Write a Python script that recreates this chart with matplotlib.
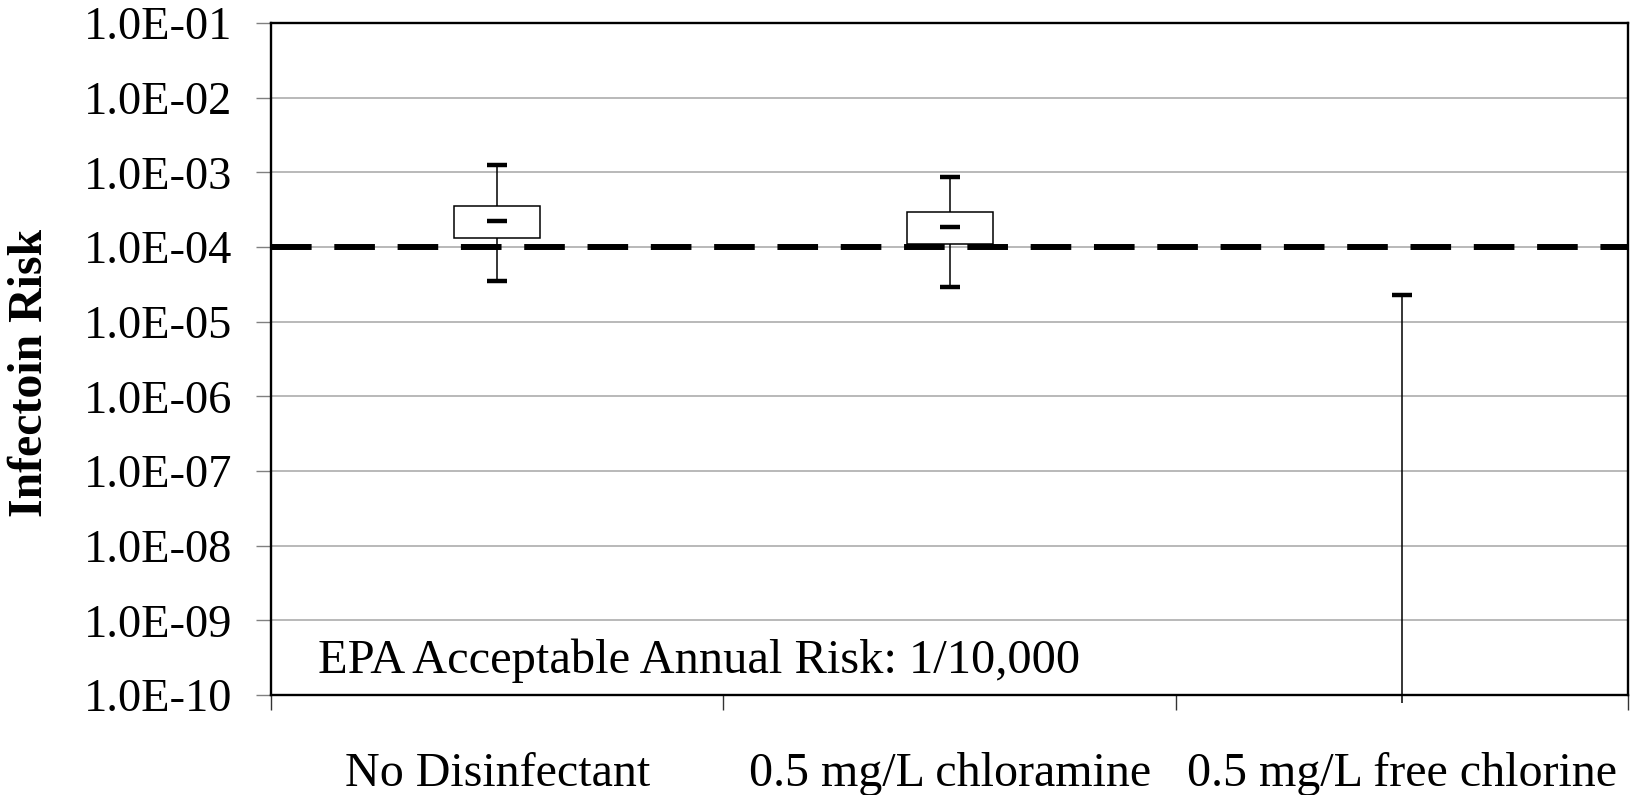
#!/usr/bin/env python3
# -*- coding: utf-8 -*-
"""
Infection risk by disinfectant condition (box plot, log scale)
"""

import matplotlib
matplotlib.use('Agg')
import matplotlib.pyplot as plt
import numpy as np
from matplotlib.ticker import FixedLocator, NullLocator, FuncFormatter

# 绘图风格
plt.rcParams['font.family'] = ['Liberation Serif', 'DejaVu Serif']
plt.rcParams['font.size'] = 34

# 数据
CATEGORIES = ['No Disinfectant', '0.5 mg/L chloramine', '0.5 mg/L free chlorine']
WHISKER_LOW = [3.5e-5, 2.9e-5, 7.8e-11]
Q1 = [1.32e-4, 1.10e-4, np.nan]
MEDIAN = [2.23e-4, 1.85e-4, np.nan]
Q3 = [3.54e-4, 2.94e-4, np.nan]
WHISKER_HIGH = [1.25e-3, 8.7e-4, 2.28e-5]
EPA_RISK = 1e-4
Y_TICKS = [1e-10, 1e-9, 1e-8, 1e-7, 1e-6, 1e-5, 1e-4, 1e-3, 1e-2, 1e-1]


def plot_risk():
    fig = plt.figure(figsize=(16.31, 7.95), dpi=100)
    ax = fig.add_axes([0.1662, 0.1258, 0.832, 0.8453])

    x = np.arange(len(CATEGORIES)) + 0.5

    # 须线
    ax.vlines(x, WHISKER_LOW, WHISKER_HIGH, color='black', linewidth=1.1,
              zorder=3, clip_on=False)
    # 端帽
    ax.plot(x, WHISKER_HIGH, linestyle='none', marker='_', markersize=15,
            markeredgewidth=3.2, color='black', zorder=4)
    ax.plot(x, WHISKER_LOW, linestyle='none', marker='_', markersize=15,
            markeredgewidth=3.2, color='black', zorder=4)
    # 箱体
    heights = np.array(Q3) - np.array(Q1)
    ax.bar(x, heights, bottom=Q1, width=0.19, facecolor='white',
           edgecolor='black', linewidth=1.1, zorder=4)
    # 中位数
    ax.plot(x, MEDIAN, linestyle='none', marker='_', markersize=15,
            markeredgewidth=3.2, color='black', zorder=5)

    # EPA 可接受风险线
    ax.plot([0, 3], [EPA_RISK, EPA_RISK], color='black', linewidth=4.3,
            dashes=(6.8, 3.8), zorder=6, solid_capstyle='butt',
            dash_capstyle='butt')

    ax.text(0.0346, 0.0327, 'EPA Acceptable Annual Risk: 1/10,000',
            transform=ax.transAxes, ha='left', va='baseline', fontsize=34.9)

    # Y轴
    ax.set_yscale('log')
    ax.set_ylim(1e-10, 1e-1)
    ax.yaxis.set_major_locator(FixedLocator(Y_TICKS))
    ax.yaxis.set_minor_locator(NullLocator())
    ax.yaxis.set_major_formatter(FuncFormatter(lambda v, p: f'{v:.1E}'))
    ax.tick_params(axis='y', which='major', direction='out', length=10.8,
                   width=1.0, color='#808080', pad=17, labelsize=33.5)
    ax.grid(True, axis='y', color='#a6a6a6', linewidth=1.1)
    ax.set_axisbelow(True)

    # X轴
    ax.set_xlim(0, 3)
    ax.set_xticks([0, 1, 2, 3])
    ax.set_xticklabels([])
    ax.set_xticks(x, minor=True)
    ax.set_xticklabels(CATEGORIES, minor=True)
    ax.tick_params(axis='x', which='major', direction='out', length=10.8,
                   width=1.0, color='#333333')
    ax.tick_params(axis='x', which='minor', length=0, pad=41, labelsize=34.6)

    for side in ['left', 'right', 'top', 'bottom']:
        ax.spines[side].set_linewidth(1.7)
        ax.spines[side].set_color('black')

    fig.text(30 / 1631, 1 - 373 / 795, 'Infectoin Risk', rotation=90,
             ha='center', va='center', fontsize=34.4, fontweight='bold')

    fig.savefig('out.png', dpi=100)


if __name__ == '__main__':
    plot_risk()
